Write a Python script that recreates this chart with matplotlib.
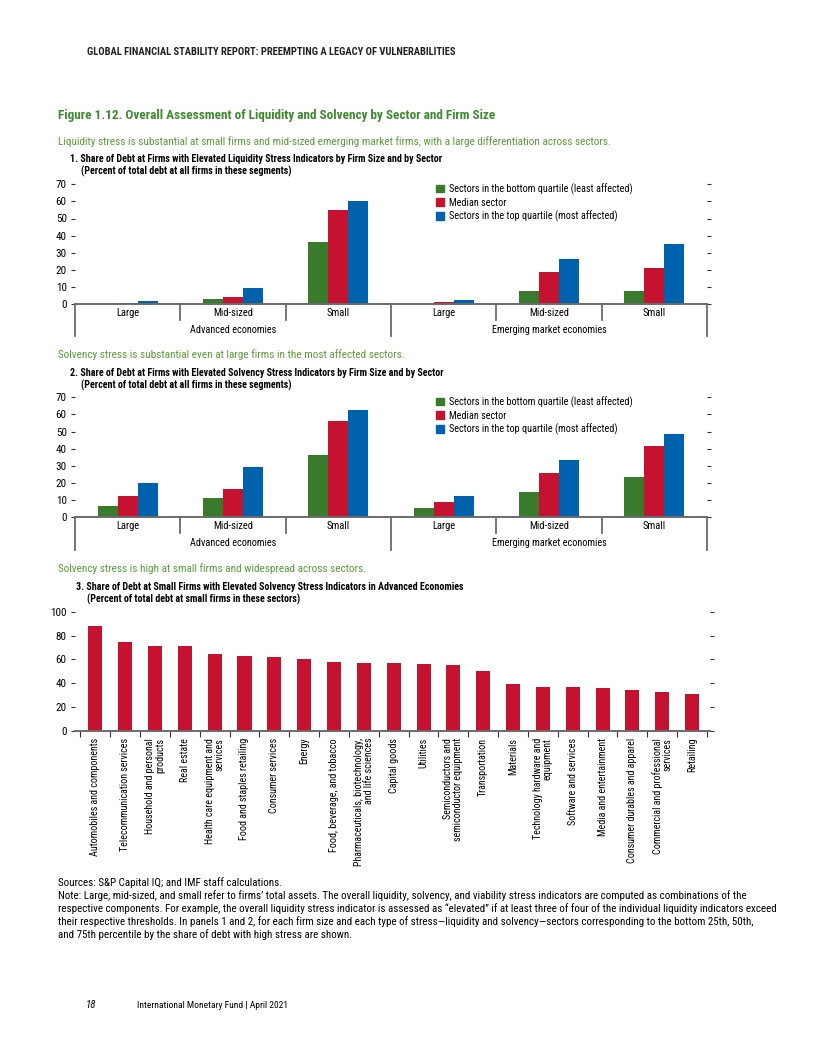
import numpy as np
import matplotlib
matplotlib.use('Agg')
import matplotlib.pyplot as plt
import matplotlib.transforms as mtransforms
from matplotlib.patches import Patch

plt.rcParams['font.family'] = ['Roboto Condensed', 'DejaVu Sans']

# --- data ---
sizes = ['Large', 'Mid-sized', 'Small']
groups = ['Advanced economies', 'Emerging market economies']
series_names = ['Sectors in the bottom quartile (least affected)',
                'Median sector',
                'Sectors in the top quartile (most affected)']

# panel 1: liquidity (AE Large, Mid, Small, EM Large, Mid, Small)
liq_bottom = [0.2, 2.9, 36.2, 0.2, 7.5, 7.5]
liq_median = [0.5, 4.1, 55.1, 1.0, 18.6, 20.9]
liq_top = [1.5, 9.4, 60.3, 2.1, 26.1, 34.9]

# panel 2: solvency
solv_bottom = [6.6, 11.3, 36.6, 5.4, 14.7, 23.5]
solv_median = [12.6, 16.7, 56.4, 8.9, 25.9, 41.6]
solv_top = [20.0, 29.6, 62.6, 12.5, 33.5, 48.6]

# panel 3: small firms in AEs by sector
sectors = ['Automobiles and components', 'Telecommunication services',
           'Household and personal\nproducts', 'Real estate',
           'Health care equipment and\nservices', 'Food and staples retailing',
           'Consumer services', 'Energy', 'Food, beverage, and tobacco',
           'Pharmaceuticals, biotechnology,\nand life sciences', 'Capital goods',
           'Utilities', 'Semiconductors and\nsemiconductor equipment',
           'Transportation', 'Materials', 'Technology hardware and\nequipment',
           'Software and services', 'Media and entertainment',
           'Consumer durables and apparel', 'Commercial and professional\nservices',
           'Retailing']
sector_share = [88.0, 74.6, 71.2, 71.2, 64.5, 62.8, 62.0, 60.3, 57.8, 57.0, 57.0,
                56.1, 55.3, 50.3, 39.4, 36.9, 36.9, 36.0, 34.4, 32.7, 31.0]

GREEN = '#3a7a2c'
RED = '#c41230'
BLUE = '#0062ad'
TITLE_GREEN = '#3d8b2f'
SUB_GREEN = '#5a9e3c'
LINE = '#6b6b6b'

W, H = 816, 1056
fig = plt.figure(figsize=(W / 100, H / 100), dpi=100)


def fy(py):
    return 1 - py / H


def fx(px):
    return px / W


def txt(px, py, s, **kw):
    fig.text(fx(px), fy(py), s, va='center', ha='left', **kw)


def style_axis(ax, ymax, step):
    ax.set_ylim(0, ymax)
    ax.set_yticks(np.arange(0, ymax + 1, step))
    for sp in ax.spines.values():
        sp.set_visible(False)
    ax.tick_params(axis='y', left=True, right=True, labelleft=True, labelright=False,
                   direction='out', length=3, width=0.8, color='#333333',
                   labelsize=8, pad=3)
    ax.axhline(0, color=LINE, lw=1.4, zorder=3, clip_on=False)


def grouped_panel(ax, bottom, median, top):
    x = np.arange(6)
    w = 0.19
    ax.bar(x - w, bottom, w, color=GREEN, zorder=2)
    ax.bar(x, median, w, color=RED, zorder=2)
    ax.bar(x + w, top, w, color=BLUE, zorder=2)
    ax.set_xlim(-0.5, 5.5)
    ax.set_xticks([])
    style_axis(ax, 70, 10)
    trans = mtransforms.blended_transform_factory(ax.transData, ax.transAxes)
    for b in [0.5, 1.5, 3.5, 4.5]:
        ax.plot([b, b], [0, -0.13], transform=trans, color=LINE, lw=1.3, clip_on=False)
    for b in [-0.5, 2.5, 5.5]:
        ax.plot([b, b], [0, -0.27], transform=trans, color=LINE, lw=1.3, clip_on=False)
    for i in range(6):
        ax.text(i, -0.075, sizes[i % 3], transform=trans, ha='center', va='center',
                fontsize=7.6)
    for g, name in enumerate(groups):
        ax.text(1 + 3 * g, -0.215, name, transform=trans, ha='center', va='center',
                fontsize=7.4)
    handles = [Patch(color=c) for c in (GREEN, RED, BLUE)]
    ax.legend(handles, series_names, loc='upper left', bbox_to_anchor=(0.56, 1.07),
              frameon=False, fontsize=7.3, handlelength=0.75, handleheight=0.75,
              handletextpad=0.5, labelspacing=0.3, borderpad=0.2)


# header and titles
txt(87, 52, 'GLOBAL FINANCIAL STABILITY REPORT: PREEMPTING A LEGACY OF VULNERABILITIES',
    fontsize=7.6, fontweight='bold', color='#222222')
txt(58, 115, 'Figure 1.12. Overall Assessment of Liquidity and Solvency by Sector and Firm Size',
    fontsize=9.5, fontweight='bold', color=TITLE_GREEN)

# panel 1
txt(58, 142, 'Liquidity stress is substantial at small firms and mid-sized emerging market firms, '
    'with a large differentiation across sectors.', fontsize=8.1, color=SUB_GREEN)
txt(70, 159, '1. Share of Debt at Firms with Elevated Liquidity Stress Indicators by Firm Size '
    'and by Sector', fontsize=7.2, fontweight='bold')
txt(81, 171, '(Percent of total debt at all firms in these segments)', fontsize=7.2,
    fontweight='bold')
ax1 = fig.add_axes([fx(75), fy(304), fx(707) - fx(75), (304 - 184.3) / H])
grouped_panel(ax1, liq_bottom, liq_median, liq_top)

# panel 2
txt(58, 355, 'Solvency stress is substantial even at large firms in the most affected sectors.',
    fontsize=8.1, color=SUB_GREEN)
txt(70, 373, '2. Share of Debt at Firms with Elevated Solvency Stress Indicators by Firm Size '
    'and by Sector', fontsize=7.2, fontweight='bold')
txt(81, 385, '(Percent of total debt at all firms in these segments)', fontsize=7.2,
    fontweight='bold')
ax2 = fig.add_axes([fx(75), fy(517.3), fx(707) - fx(75), (517.3 - 397.3) / H])
grouped_panel(ax2, solv_bottom, solv_median, solv_top)

# panel 3
txt(58, 569, 'Solvency stress is high at small firms and widespread across sectors.',
    fontsize=8.1, color=SUB_GREEN)
txt(76, 587, '3. Share of Debt at Small Firms with Elevated Solvency Stress Indicators in '
    'Advanced Economies', fontsize=7.2, fontweight='bold')
txt(87, 599, '(Percent of total debt at small firms in these sectors)', fontsize=7.2,
    fontweight='bold')
ax3 = fig.add_axes([fx(75), fy(731), fx(710) - fx(75), (731 - 611.7) / H])
x3 = np.arange(len(sectors))
ax3.bar(x3, sector_share, 0.47, color=RED, zorder=2)
ax3.set_xlim(-0.68, len(sectors) - 0.4)
style_axis(ax3, 100, 20)
ax3.set_xticks(x3)
ax3.set_xticklabels(sectors, rotation=90, fontsize=7.2, multialignment='right',
                    linespacing=1.0)
ax3.tick_params(axis='x', length=0, pad=5)
ax3.set_xticks(np.arange(len(sectors) + 1) - 0.5, minor=True)
ax3.tick_params(axis='x', which='minor', length=4, width=0.8, color='#333333')

# notes
notes = [
    'Sources: S&P Capital IQ; and IMF staff calculations.',
    'Note: Large, mid-sized, and small refer to firms\u2019 total assets. The overall liquidity, '
    'solvency, and viability stress indicators are computed as combinations of the',
    'respective components. For example, the overall liquidity stress indicator is assessed as '
    '\u201celevated\u201d if at least three of four of the individual liquidity indicators exceed',
    'their respective thresholds. In panels 1 and 2, for each firm size and each type of '
    'stress\u2014liquidity and solvency\u2014sectors corresponding to the bottom 25th, 50th,',
    'and 75th percentile by the share of debt with high stress are shown.',
]
for i, line in enumerate(notes):
    txt(58, 883 + 13 * i, line, fontsize=7.95)

txt(86, 1005, '18', fontsize=7.8, fontstyle='italic')
txt(137, 1005, 'International Monetary Fund | April 2021', fontsize=6.8)

fig.savefig('out.png', dpi=100)
